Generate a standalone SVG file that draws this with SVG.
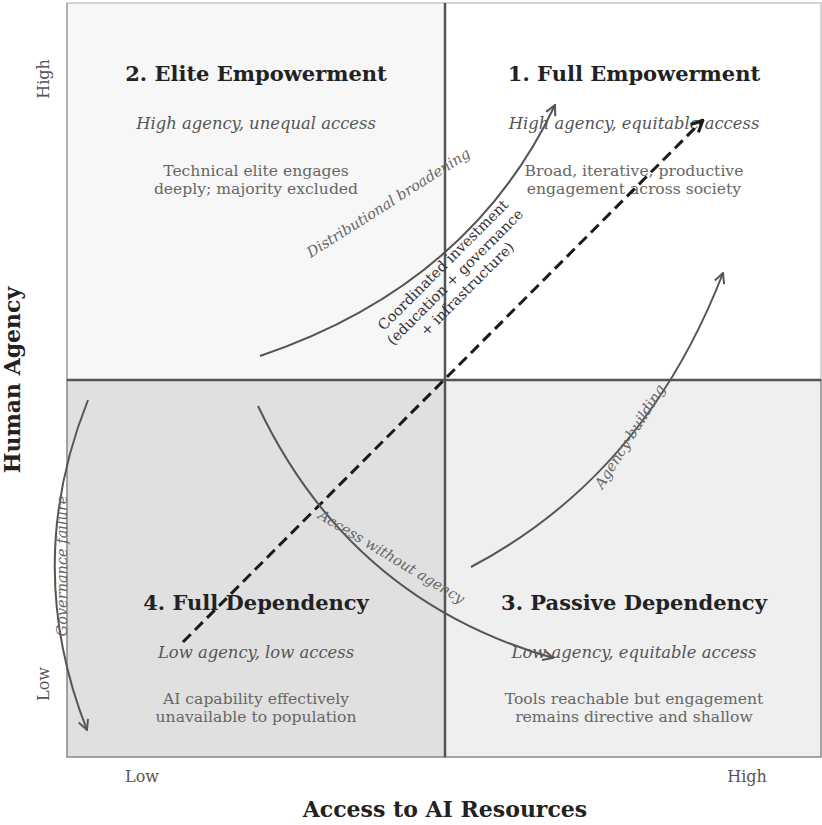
<svg xmlns="http://www.w3.org/2000/svg" width="822" height="825" viewBox="0 0 822 825">
<style>
text{font-family:"DejaVu Serif","Liberation Serif",serif;}
.title{font-size:21px;font-weight:bold;fill:#222;text-anchor:middle;}
.sub{font-size:16.4px;font-style:italic;fill:#555;text-anchor:middle;}
.desc{font-size:15.6px;fill:#666;text-anchor:middle;}
.tick{font-size:16px;fill:#555;text-anchor:middle;}
.axis{font-size:22px;font-weight:bold;fill:#222;text-anchor:middle;}
.lbl{font-size:14.5px;font-style:italic;fill:#666;text-anchor:middle;}
.coord{font-size:14.5px;fill:#333;text-anchor:middle;}
.arc{fill:none;stroke:#555;stroke-width:2;marker-end:url(#ah);}
.dash{fill:none;stroke:#1a1a1a;stroke-width:3;stroke-dasharray:11,6;marker-end:url(#ahd);}
</style>
<defs>
<marker id="ah" viewBox="0 0 12 12" refX="11" refY="6" markerWidth="12" markerHeight="12" markerUnits="userSpaceOnUse" orient="auto">
<path d="M1,1 L11,6 L1,11" fill="none" stroke="#555" stroke-width="2"/>
</marker>
<marker id="ahd" viewBox="0 0 14 14" refX="13" refY="7" markerWidth="14" markerHeight="14" markerUnits="userSpaceOnUse" orient="auto">
<path d="M1,1.5 L13,7 L1,12.5" fill="none" stroke="#1a1a1a" stroke-width="3"/>
</marker>
</defs>
<rect width="822" height="825" fill="#ffffff"/>
<g id="quadrants">
<rect id="q2" x="67" y="3" width="378" height="377" fill="#f7f7f7" stroke="#c8c8c8" stroke-width="1.5"/>
<rect id="q1" x="445" y="3" width="376" height="377" fill="#ffffff" stroke="#c8c8c8" stroke-width="1.5"/>
<rect id="q4" x="67" y="380" width="378" height="377" fill="#e0e0e0" stroke="#888" stroke-width="1.5"/>
<rect id="q3" x="445" y="380" width="376" height="377" fill="#efefef" stroke="#888" stroke-width="1.5"/>
<line x1="67" y1="3" x2="67" y2="380" stroke="#a8a8a8" stroke-width="1.5"/>
<line x1="445" y1="3" x2="445" y2="757" stroke="#555" stroke-width="2.5"/>
<line x1="67" y1="380" x2="821" y2="380" stroke="#555" stroke-width="2.5"/>
</g>
<g id="node-q2">
<text class="title" x="256" y="81">2. Elite Empowerment</text>
<text class="sub" x="256" y="129">High agency, unequal access</text>
<text class="desc" x="256" y="176">Technical elite engages</text>
<text class="desc" x="256" y="194">deeply; majority excluded</text>
</g>
<g id="node-q1">
<text class="title" x="634" y="81">1. Full Empowerment</text>
<text class="sub" x="634" y="129">High agency, equitable access</text>
<text class="desc" x="634" y="176">Broad, iterative, productive</text>
<text class="desc" x="634" y="194">engagement across society</text>
</g>
<g id="node-q4">
<text class="title" x="256" y="610">4. Full Dependency</text>
<text class="sub" x="256" y="658">Low agency, low access</text>
<text class="desc" x="256" y="704">AI capability effectively</text>
<text class="desc" x="256" y="722">unavailable to population</text>
</g>
<g id="node-q3">
<text class="title" x="634" y="610">3. Passive Dependency</text>
<text class="sub" x="634" y="658">Low agency, equitable access</text>
<text class="desc" x="634" y="704">Tools reachable but engagement</text>
<text class="desc" x="634" y="722">remains directive and shallow</text>
</g>
<g id="axes">
<text class="axis" x="445" y="817">Access to AI Resources</text>
<text class="axis" transform="translate(20,380) rotate(-90)">Human Agency</text>
<text class="tick" x="142" y="782">Low</text>
<text class="tick" x="747" y="782">High</text>
<text class="tick" transform="translate(49,79) rotate(-90)">High</text>
<text class="tick" transform="translate(49,684) rotate(-90)">Low</text>
</g>
<g id="connectors">
<path class="dash" d="M183,642 L703,120"/>
<path class="arc" d="M260,356 Q470,285 555,105"/>
<path class="arc" d="M471,567 Q645,475 723,273"/>
<path class="arc" d="M258,406 Q350,600 553,658"/>
<path class="arc" d="M88,400 Q22,565 87,730"/>
<text class="lbl" transform="translate(391,207) rotate(-32.5)">Distributional broadening</text>
<text class="lbl" transform="translate(634,439) rotate(-58)">Agency-building</text>
<text class="lbl" transform="translate(389,561) rotate(31)">Access without agency</text>
<text class="lbl" transform="translate(67,566) rotate(-90)">Governance failure</text>
<g transform="translate(455,277) rotate(-45)">
<text class="coord" x="0" y="-12">Coordinated investment</text>
<text class="coord" x="0" y="5">(education + governance</text>
<text class="coord" x="0" y="22">+ infrastructure)</text>
</g>
</g>
</svg>
